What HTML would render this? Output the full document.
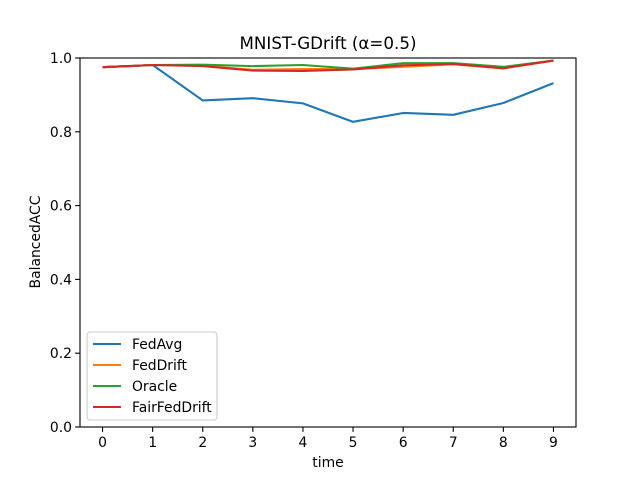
<!DOCTYPE html>
<html><head><meta charset="utf-8"><style>
body{margin:0;background:#fff;font-family:"Liberation Sans","DejaVu Sans",sans-serif}
svg text{font-family:"DejaVu Sans","Liberation Sans",sans-serif}
</style></head><body>
<svg id="chart" width="640" height="480" xmlns="http://www.w3.org/2000/svg">
<rect width="640" height="480" fill="#fff"/>
<g id="plot"></g>
</svg>
<script>
const times=[0,1,2,3,4,5,6,7,8,9];
const yTicks=[0.0,0.2,0.4,0.6,0.8,1.0];
const seriesNames=["FedAvg","FedDrift","Oracle","FairFedDrift"];
const fedAvg=[0.975,0.981,0.885,0.891,0.877,0.827,0.851,0.846,0.878,0.932];
const fedDrift=[0.975,0.981,0.979,0.968,0.970,0.970,0.976,0.983,0.972,0.993];
const oracle=[0.975,0.981,0.982,0.978,0.981,0.971,0.986,0.986,0.976,0.993];
const fairFedDrift=[0.975,0.981,0.978,0.966,0.965,0.969,0.980,0.984,0.972,0.993];
const colors=["#1f77b4","#ff7f0e","#2ca02c","#d62728"];
const L=80,R=576,T=58,B=427;
const xs=v=>L+(v+0.45)/9.9*(R-L);
const ys=v=>B-v*(B-T);
const NS="http://www.w3.org/2000/svg";
const g=document.getElementById('plot');
function mk(tag,attrs,txt){const e=document.createElementNS(NS,tag);for(const k in attrs)e.setAttribute(k,attrs[k]);if(txt!==undefined)e.textContent=txt;g.appendChild(e);return e;}
times.forEach(t=>{
 const x=xs(t);
 const tk=mk('line',{x1:x,x2:x,y1:B,y2:B+4.9,stroke:'#000','stroke-width':1.1});
 
 
 const lb=mk('text',{x:x,y:B+20,'font-size':13.9,'text-anchor':'middle'},String(t));
 
 
});
yTicks.forEach(v=>{
 const y=ys(v);
 const tk=mk('line',{x1:L-4.9,x2:L,y1:y,y2:y,stroke:'#000','stroke-width':1.1});
 
 
 const lb=mk('text',{x:L-8,y:y+5,'font-size':13.9,'text-anchor':'end'},v.toFixed(1));
 
 
});
const all=[fedAvg,fedDrift,oracle,fairFedDrift];
all.forEach((s,i)=>{
 const p=mk('polyline',{points:s.map((v,j)=>xs(times[j])+','+ys(v)).join(' '),fill:'none',stroke:colors[i],'stroke-width':2.1,'stroke-linejoin':'round'});
 
 
});
const fr=mk('rect',{x:L,y:T,width:R-L,height:B-T,fill:'none',stroke:'#000','stroke-width':1.1});


const tt=mk('text',{x:(L+R)/2,y:49,'font-size':16.7,'text-anchor':'middle'},'MNIST-GDrift (α=0.5)');


const xt=mk('text',{x:(L+R)/2,y:467,'font-size':13.9,'text-anchor':'middle'},'time');


const yt=mk('text',{x:0,y:0,'font-size':13.9,'text-anchor':'middle',transform:'translate(40,242) rotate(-90)'},'BalancedACC');


const lg=mk('rect',{x:87,y:332,width:130,height:88,rx:3,fill:'#fff',stroke:'#ccc','stroke-width':1.1});


seriesNames.forEach((n,i)=>{
 const y=344+i*21;
 const ln=mk('line',{x1:93,x2:121,y1:y,y2:y,stroke:colors[i],'stroke-width':2.1});
 
 
 const tx=mk('text',{x:132,y:y+5,'font-size':13.9},n);
 
 
});
</script>
</body></html>
